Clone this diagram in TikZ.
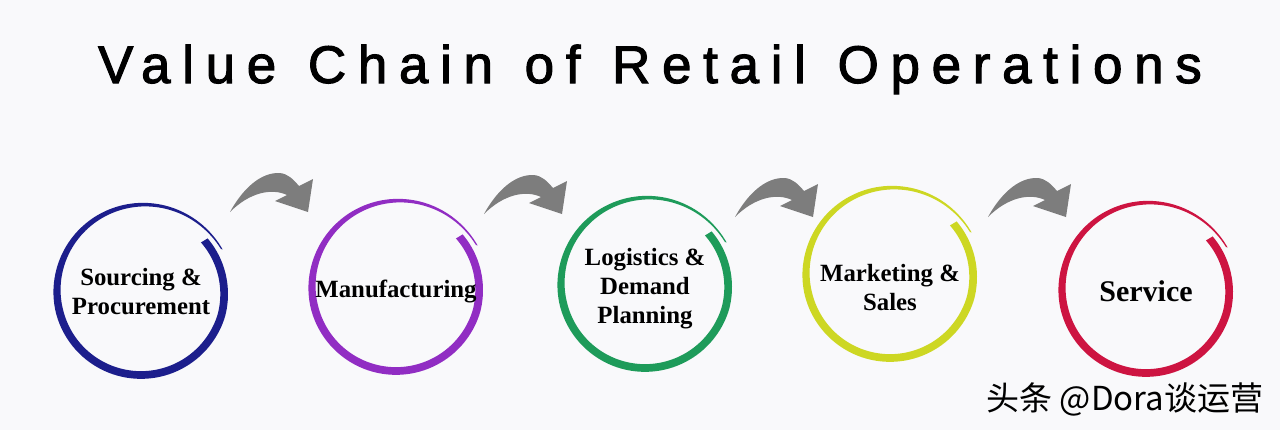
\documentclass[tikz,border=0pt]{standalone}
\usepackage{fontspec}
\setmainfont{Liberation Serif}
\newfontfamily\titlefont[LetterSpace=22,FakeBold=2,WordSpace=1.2]{Liberation Sans}
\newfontfamily\cjkfont{Noto Sans CJK SC}
\usepackage{tikz}
\usetikzlibrary{positioning}

\definecolor{bgcol}{RGB}{249,249,251}
\definecolor{arrowgray}{RGB}{125,125,125}
\definecolor{ringblue}{RGB}{28,30,140}
\definecolor{ringpurple}{RGB}{145,45,195}
\definecolor{ringgreen}{RGB}{30,155,90}
\definecolor{ringyellow}{RGB}{205,215,35}
\definecolor{ringred}{RGB}{205,20,65}

\tikzset{
    titletext/.style={anchor=base, inner sep=0pt, font=\titlefont\fontsize{26.5}{30}\selectfont},
    ringlabel/.style={align=center, inner sep=0pt, text=black},
    declare function={
        ringa(\t)=27+372*\t;                                      % angle along the stroke
        ringr(\t)=84+7*pow(max(0,1-\t/0.4),2)-3*max(0,(\t-0.85)/0.15); % radius of stroke
        ringw(\t)=1.2+6.5*min(1,\t/0.45);                         % width of stroke
    }
}

\begin{document}
\begin{tikzpicture}[x=0.5pt,y=-0.5pt]
    \pgfmathsetmacro {\lx}{1280} %Width of picture
    \pgfmathsetmacro {\ly}{430}  %Height of picture
    \fill[bgcol] (0,0) rectangle (\lx,\ly);   % Background
    \useasboundingbox (0,0) rectangle (\lx,\ly);

    \node[titletext] (title) at (650,83) {Value Chain of Retail Operations}; % Title

    %Loop for drawing the rings and their labels
    \foreach \cx/\cy/\ty/\fs/\col/\nm/\txt in {
        141/291/291.5/12.4/ringblue/sourcing/{Sourcing \&\\Procurement},
        396/287/291.5/12.4/ringpurple/manufacturing/{Manufacturing},
        645/284/289/12.4/ringgreen/logistics/{Logistics \&\\Demand\\Planning},
        890/274/288/12.4/ringyellow/marketing/{Marketing \&\\Sales},
        1146/289/291/15/ringred/service/{Service}} {
        \fill[\col] plot[domain=0:1, samples=150, variable=\t]
            ({\cx+(ringr(\t)+ringw(\t)/2)*cos(ringa(\t))}, {\cy-(ringr(\t)+ringw(\t)/2)*sin(ringa(\t))})
            -- plot[domain=1:0, samples=150, variable=\t]
            ({\cx+(ringr(\t)-ringw(\t)/2)*cos(ringa(\t))}, {\cy-(ringr(\t)-ringw(\t)/2)*sin(ringa(\t))})
            -- cycle;                                   %Draw brush ring
        \node[ringlabel, font=\fontsize{\fs}{14.5}\selectfont\bfseries] (\nm) at (\cx,\ty) {\txt}; %Ring label
    }

    %Loop for drawing the curved arrows between the rings
    \foreach \ax/\ay in {230/212, 484/214, 735/217, 988/217} {
        \fill[arrowgray, shift={(\ax,\ay)}] (0,0)
            .. controls (12,-22) and (30,-40) .. (50,-39)
            .. controls (58,-38) and (63,-33) .. (69,-26)
            -- (83,-33) -- (78,0) -- (45,-11) -- (57,-17)
            .. controls (42,-24) and (20,-20) .. (0,0) -- cycle;
    }

    \node[font=\cjkfont\fontsize{16.5}{18}\selectfont] (credit) at (1125,399) {头条 @Dora谈运营}; % Credit line
\end{tikzpicture}
\end{document}
